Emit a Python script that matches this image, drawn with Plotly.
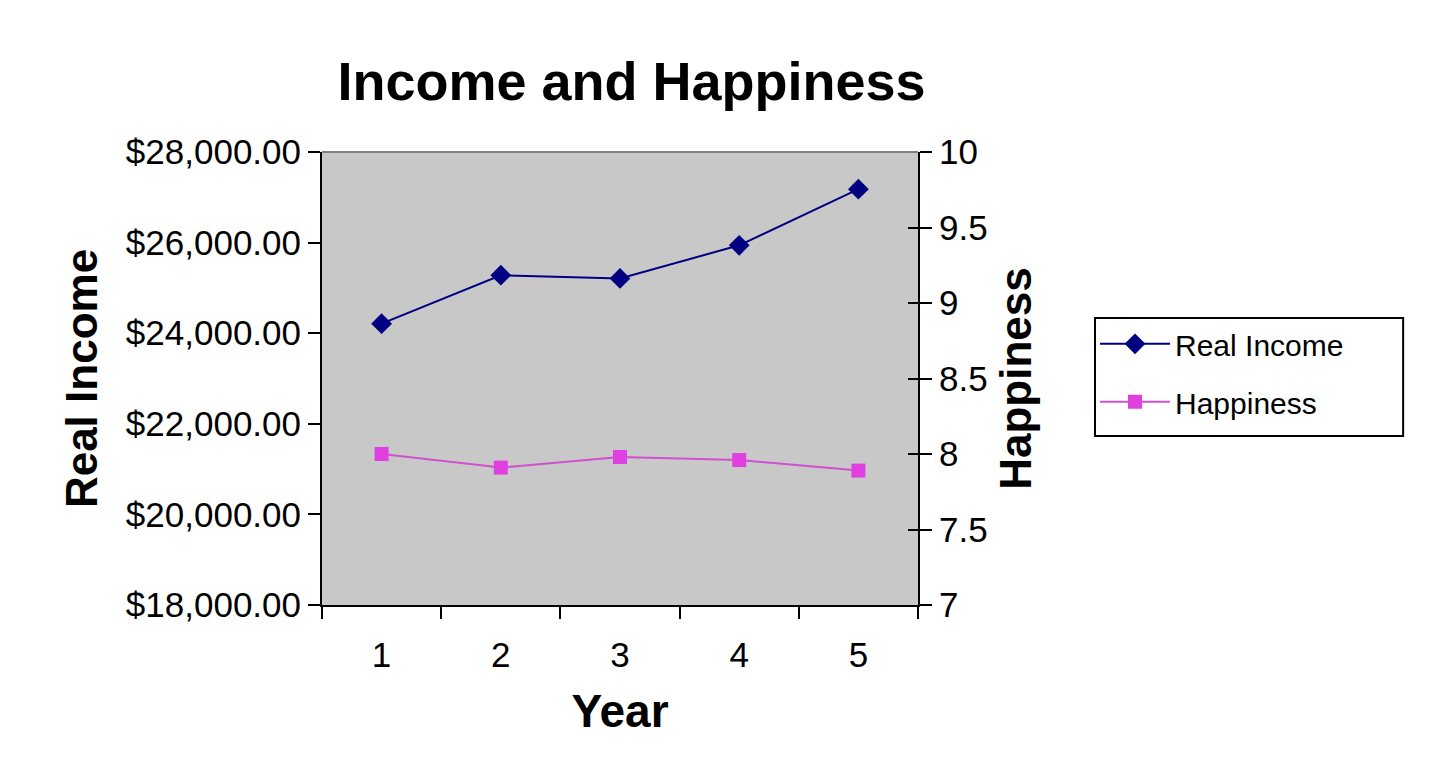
import plotly.graph_objects as go

# Datos
years = ["1", "2", "3", "4", "5"]
real_income = [24210, 25280, 25210, 25940, 27180]
happiness = [8.00, 7.91, 7.98, 7.96, 7.89]

fig = go.Figure()

fig.add_trace(go.Scatter(
    x=years, y=real_income, name="Real Income", mode="lines+markers",
    legendgroup="a",
    line=dict(color="#000080", width=2),
    marker=dict(symbol="diamond", size=16, color="#000080"),
))
fig.add_trace(go.Scatter(
    x=years, y=happiness, name="Happiness", mode="lines+markers", yaxis="y2",
    legendgroup="b",
    line=dict(color="#D050D0", width=2),
    marker=dict(symbol="square", size=14, color="#E040E0"),
))

font = "Liberation Sans, Arial, sans-serif"
tick_style = dict(ticks="outside", ticklen=12, tickwidth=2, tickcolor="black",
                  showline=True, linecolor="black", linewidth=2,
                  showgrid=False, zeroline=False)

fig.update_layout(
    width=1440, height=766,
    margin=dict(l=314, r=530, t=144, b=169),
    paper_bgcolor="white",
    plot_bgcolor="#C8C8C8",
    font=dict(family=font, size=35, color="black"),
    title=dict(text="<b>Income and Happiness</b>", x=0.433, xanchor="center",
               y=0.905, yanchor="middle", font=dict(size=54)),
    xaxis=dict(
        type="category", tickson="boundaries", ticklabelstandoff=18,
        range=[-0.5, len(years) - 0.5],
        title=dict(text="<b>Year</b>", font=dict(size=46), standoff=22),
        **tick_style,
    ),
    yaxis=dict(
        range=[18000, 28000], dtick=2000, tickformat="$,.2f",
        title=dict(text="<b>Real Income</b>", font=dict(size=44), standoff=14),
        **tick_style,
    ),
    yaxis2=dict(
        overlaying="y", side="right", range=[7, 10], dtick=0.5,
        title=dict(text="<b>Happiness</b>", font=dict(size=44), standoff=14),
        **tick_style,
    ),
    # marcas interiores del eje derecho (cruzan la linea)
    yaxis3=dict(
        overlaying="y", side="right", range=[7, 10], dtick=0.5,
        ticks="inside", ticklen=10, tickwidth=2, tickcolor="black",
        showticklabels=False, showline=False, showgrid=False, zeroline=False,
    ),
    legend=dict(
        x=1.297, y=0.634, xanchor="left", yanchor="top",
        borderwidth=0, bgcolor="rgba(0,0,0,0)",
        font=dict(size=30), tracegroupgap=16, itemwidth=70,
    ),
)

# traza invisible para activar el eje yaxis3
fig.add_trace(go.Scatter(x=years, y=happiness, yaxis="y3", mode="lines",
                         line=dict(width=0), showlegend=False, hoverinfo="skip"))

# borde superior gris del area de trazado
fig.add_shape(type="line", xref="paper", yref="paper", x0=0, x1=1, y0=1, y1=1,
              line=dict(color="#808080", width=2))
# marco de la leyenda
fig.add_shape(type="rect", xref="paper", yref="paper",
              x0=1.297, x1=1.814, y0=0.373, y1=0.6336,
              line=dict(color="black", width=2))

fig.write_html("out.html")
